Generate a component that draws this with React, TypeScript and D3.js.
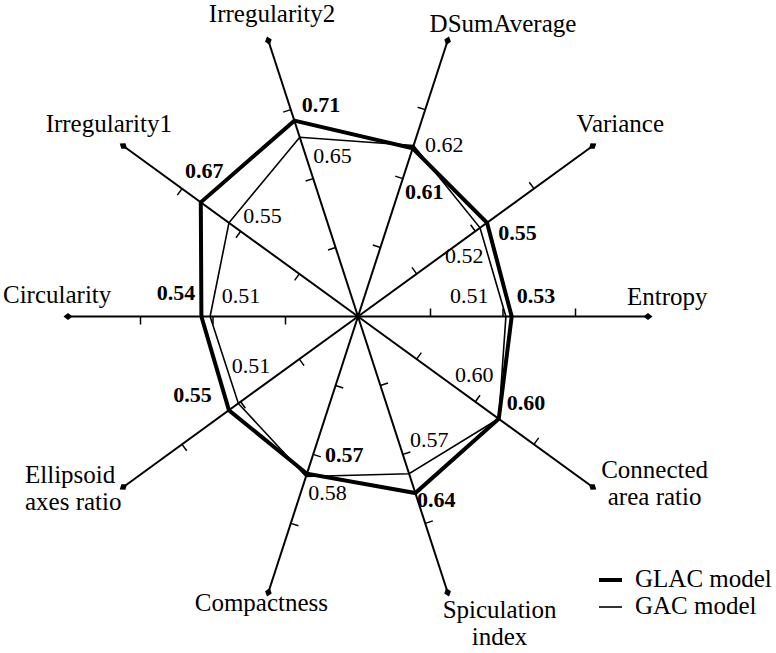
import React, { useEffect, useRef } from "react";
import * as d3 from "d3";

// axis names (multi-line labels split into lines)
const axes = [
  ["Entropy"],
  ["Variance"],
  ["DSumAverage"],
  ["Irregularity2"],
  ["Irregularity1"],
  ["Circularity"],
  ["Ellipsoid", "axes ratio"],
  ["Compactness"],
  ["Spiculation", "index"],
  ["Connected", "area ratio"],
];
const glacValues = [0.53, 0.55, 0.61, 0.71, 0.67, 0.54, 0.55, 0.57, 0.64, 0.6];
const gacValues = [0.51, 0.52, 0.62, 0.65, 0.55, 0.51, 0.51, 0.58, 0.57, 0.6];
const tickValues = [0.25, 0.5, 0.75];
const seriesNames = ["GLAC model", "GAC model"];

// layout only: where each label sits relative to its anchor point
const axisLabelOffsets = [
  [-21, -11.5, "start"],
  [-16, -14, "start"],
  [-18, -9, "start"],
  [3.6, -18.7, "middle"],
  [48.6, -14, "end"],
  [-65, -13.5, "start"],
  [-98.4, -4, "start"],
  [-7, 19, "middle"],
  [52, 26, "middle"],
  [62, -9, "middle"],
];
const glacLabelOffsets = [
  [5, -13.2], [11.3, 17.3], [-7.7, 50.7], [7.3, -9], [-15.8, -24],
  [-44.7, -16.5], [-55.7, -8.6], [18.1, -12], [1.6, 14], [7.9, -8.8],
];
const gacLabelOffsets = [
  [-55.9, -13.5], [-35, 35], [11.4, 6.5], [13.5, 26], [14.3, 0.6],
  [11.6, -13.2], [-6.6, -30.1], [2.3, 23.5], [0.9, -27], [-43.8, -37.1],
];

const width = 776;
const height = 653;
const cx = 358;
const cy = 316.5;
const radius = 290;
const font = "'Liberation Serif', 'Times New Roman', serif";

const RadarChart = () => {
  const svgRef = useRef<SVGSVGElement>(null);

  useEffect(() => {
    const svg = d3.select(svgRef.current);
    svg.selectAll("*").remove();

    const n = axes.length;
    const r = d3.scaleLinear().domain([0, 1]).range([0, radius]);
    // math angle, counter-clockwise from the right
    const theta = d3.scaleLinear().domain([0, n]).range([0, 2 * Math.PI]);
    const pt = (i: number, v: number): [number, number] => [
      cx + r(v) * Math.cos(theta(i)),
      cy - r(v) * Math.sin(theta(i)),
    ];

    const g = svg.append("g");

    // axes
    axes.forEach((_, i) => {
      const [x2, y2] = pt(i, 1);
      g.append("line")
        .attr("x1", cx).attr("y1", cy)
        .attr("x2", x2).attr("y2", y2)
        .attr("stroke", "#000").attr("stroke-width", 2);

      // ticks, on the counter-clockwise side
      const px = -Math.sin(theta(i));
      const py = -Math.cos(theta(i));
      tickValues.forEach((t) => {
        const [tx, ty] = pt(i, t);
        g.append("line")
          .attr("x1", tx).attr("y1", ty)
          .attr("x2", tx + px * 8).attr("y2", ty + py * 8)
          .attr("stroke", "#000").attr("stroke-width", 1.5);
      });

      // diamond at the end
      const deg = (-theta(i) * 180) / Math.PI;
      g.append("path")
        .attr("d", "M-4.5,0L0,-3.5L4.5,0L0,3.5Z")
        .attr("transform", `translate(${x2},${y2}) rotate(${deg})`)
        .attr("fill", "#000");
    });

    const line = d3
      .line<number>()
      .x((d, i) => pt(i, d)[0])
      .y((d, i) => pt(i, d)[1])
      .curve(d3.curveLinearClosed);

    g.append("path")
      .attr("d", line(gacValues))
      .attr("fill", "none")
      .attr("stroke", "#000")
      .attr("stroke-width", 1.6);

    g.append("path")
      .attr("d", line(glacValues))
      .attr("fill", "none")
      .attr("stroke", "#000")
      .attr("stroke-width", 4)
      .attr("stroke-linejoin", "miter");

    // axis labels
    axes.forEach((lines, i) => {
      const [x2, y2] = pt(i, 1);
      const [dx, dy, anchor] = axisLabelOffsets[i] as [number, number, string];
      const txt = g.append("text")
        .attr("x", x2 + dx)
        .attr("y", y2 + dy)
        .attr("text-anchor", anchor)
        .attr("font-family", font)
        .attr("font-size", 25)
        .attr("fill", "#000");
      lines.forEach((s, k) => {
        txt.append("tspan")
          .attr("x", x2 + dx)
          .attr("dy", k === 0 ? 0 : 27)
          .text(s);
      });
    });

    // value labels
    const addValues = (vals: number[], offs: number[][], bold: boolean) => {
      vals.forEach((v, i) => {
        const [x, y] = pt(i, v);
        g.append("text")
          .attr("x", x + offs[i][0])
          .attr("y", y + offs[i][1])
          .attr("font-family", font)
          .attr("font-size", 22)
          .attr("font-weight", bold ? "bold" : "normal")
          .attr("fill", "#000")
          .text(v.toFixed(2));
      });
    };
    addValues(gacValues, gacLabelOffsets, false);
    addValues(glacValues, glacLabelOffsets, true);

    // legend
    const legend = svg.append("g").attr("transform", "translate(599,580)");
    seriesNames.forEach((name, k) => {
      legend.append("line")
        .attr("x1", 0).attr("x2", 23)
        .attr("y1", k * 27).attr("y2", k * 27)
        .attr("stroke", "#000")
        .attr("stroke-width", k === 0 ? 4 : 1.6);
      legend.append("text")
        .attr("x", 36)
        .attr("y", k * 27 + 7)
        .attr("font-family", font)
        .attr("font-size", 25)
        .attr("fill", "#000")
        .text(name);
    });
  }, []);

  return (
    <svg
      ref={svgRef}
      width={width}
      height={height}
      style={{ position: "absolute", left: 0, top: 0, background: "#fff" }}
    ></svg>
  );
};

export default function App() {
  return <RadarChart />;
}
